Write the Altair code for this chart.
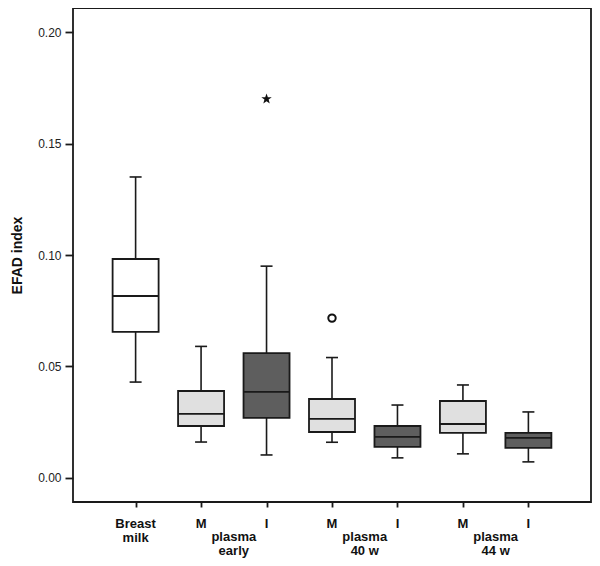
import altair as alt
import pandas as pd

categories = ["Breast milk", "M early", "I early", "M 40 w", "I 40 w", "M 44 w", "I 44 w"]
tick_labels = ["Breast\nmilk", "M", "I", "M", "I", "M", "I"]
kinds = ["milk", "M", "I", "M", "I", "M", "I"]
whisker_low = [0.043, 0.0161, 0.0103, 0.0160, 0.0090, 0.0108, 0.0072]
q1 = [0.0655, 0.0233, 0.0269, 0.0206, 0.0139, 0.0202, 0.0135]
median = [0.0816, 0.0287, 0.0386, 0.0265, 0.0184, 0.0242, 0.0180]
q3 = [0.0982, 0.0390, 0.0560, 0.0354, 0.0233, 0.0345, 0.0202]
whisker_high = [0.135, 0.059, 0.095, 0.054, 0.0327, 0.0417, 0.0296]

extreme_cat = ["I early"]
extreme_val = [0.170]
outlier_cat = ["M 40 w"]
outlier_val = [0.0717]

group_labels = ["plasma\nearly", "plasma\n40 w", "plasma\n44 w"]
group_members = [("M early", "I early"), ("M 40 w", "I 40 w"), ("M 44 w", "I 44 w")]

pos = {c: i for i, c in enumerate(categories)}
df = pd.DataFrame({
    "cat": categories, "pos": [pos[c] for c in categories], "label": tick_labels,
    "kind": kinds, "lo": whisker_low, "q1": q1, "med": median, "q3": q3, "hi": whisker_high,
})
ext = pd.DataFrame({"pos": [pos[c] for c in extreme_cat], "v": extreme_val})
out = pd.DataFrame({"pos": [pos[c] for c in outlier_cat], "v": outlier_val})
grp = pd.DataFrame({"pos": [(pos[a] + pos[b]) / 2 for a, b in group_members], "label": group_labels})

H = 494
W = 518
INK = "#1a1a1a"
xs = alt.Scale(domain=[-0.88, 6.88], nice=False, zero=False)
ys = alt.Scale(domain=[-0.0108, 0.2108], nice=False, zero=False)

X = alt.X("pos:Q", scale=xs, axis=alt.Axis(values=list(range(len(categories))), labels=False,
                                          tickSize=5, tickWidth=1.8, tickColor=INK, domain=False,
                                          grid=False, title=None))
Y = alt.Y("lo:Q", scale=ys, axis=alt.Axis(values=[0, 0.05, 0.10, 0.15, 0.20], format=".2f",
                                          tickSize=8, tickWidth=1.8, tickColor=INK, domain=False,
                                          grid=False, labelFontSize=12, labelColor="#222",
                                          labelFont="Liberation Sans", labelPadding=4,
                                          title="EFAD index", titleFontSize=14,
                                          titleFont="Liberation Sans", titleFontWeight="bold",
                                          titleColor="#111", titleX=-56, titleY=H / 2,
                                          titleAlign="center", titleBaseline="middle", titleAngle=-90))

whisk = alt.Chart(df).mark_rule(color=INK, strokeWidth=1.6).encode(x=X, y=Y, y2="hi:Q")
caps_lo = alt.Chart(df).mark_tick(orient="horizontal", size=12, thickness=1.6, color=INK,
                                  opacity=1).encode(
    x=alt.X("pos:Q", scale=xs), y=alt.Y("lo:Q", scale=ys))
caps_hi = alt.Chart(df).mark_tick(orient="horizontal", size=12, thickness=1.6, color=INK,
                                  opacity=1).encode(
    x=alt.X("pos:Q", scale=xs), y=alt.Y("hi:Q", scale=ys))
boxes = alt.Chart(df).mark_bar(size=46, stroke=INK, strokeWidth=1.8, opacity=1).encode(
    x=alt.X("pos:Q", scale=xs), y=alt.Y("q1:Q", scale=ys), y2="q3:Q",
    fill=alt.Fill("kind:N", scale=alt.Scale(domain=["milk", "M", "I"],
                                             range=["#ffffff", "#e0e0e0", "#5e5e5e"]), legend=None))
meds = alt.Chart(df).mark_tick(orient="horizontal", size=46, thickness=1.8, color=INK,
                               opacity=1).encode(
    x=alt.X("pos:Q", scale=xs), y=alt.Y("med:Q", scale=ys))

star = ("M0,-1L0.24,-0.33L0.95,-0.31L0.38,0.12L0.59,0.81L0,0.4L-0.59,0.81L-0.38,0.12"
        "L-0.95,-0.31L-0.24,-0.33Z")
ext_m = alt.Chart(ext).mark_point(shape=star, filled=True, color="#111", size=120, opacity=1).encode(
    x=alt.X("pos:Q", scale=xs), y=alt.Y("v:Q", scale=ys))
out_m = alt.Chart(out).mark_point(shape="circle", filled=False, color="#111", size=55,
                                  strokeWidth=2, opacity=1).encode(
    x=alt.X("pos:Q", scale=xs), y=alt.Y("v:Q", scale=ys))

tick_txt = alt.Chart(df).mark_text(font="Liberation Sans", fontWeight="bold", fontSize=13,
                                   color="#111", baseline="middle", lineBreak="\n",
                                   lineHeight=14).encode(
    x=alt.X("pos:Q", scale=xs), y=alt.value(H + 22), text="label:N")
grp_txt = alt.Chart(grp).mark_text(font="Liberation Sans", fontWeight="bold", fontSize=13,
                                   color="#111", baseline="middle", lineBreak="\n",
                                   lineHeight=13.5).encode(
    x=alt.X("pos:Q", scale=xs), y=alt.value(H + 35), text="label:N")

chart = alt.layer(whisk, caps_lo, caps_hi, boxes, meds, ext_m, out_m, tick_txt, grp_txt).properties(
    width=W, height=H, autosize=alt.AutoSizeParams(type="none"),
    padding={"left": 65, "top": 0, "right": 1, "bottom": 56},
).configure(background="white").configure_view(stroke=INK, strokeWidth=1.8)

chart.save("out.html", embed_options={"renderer": "svg", "actions": False})
